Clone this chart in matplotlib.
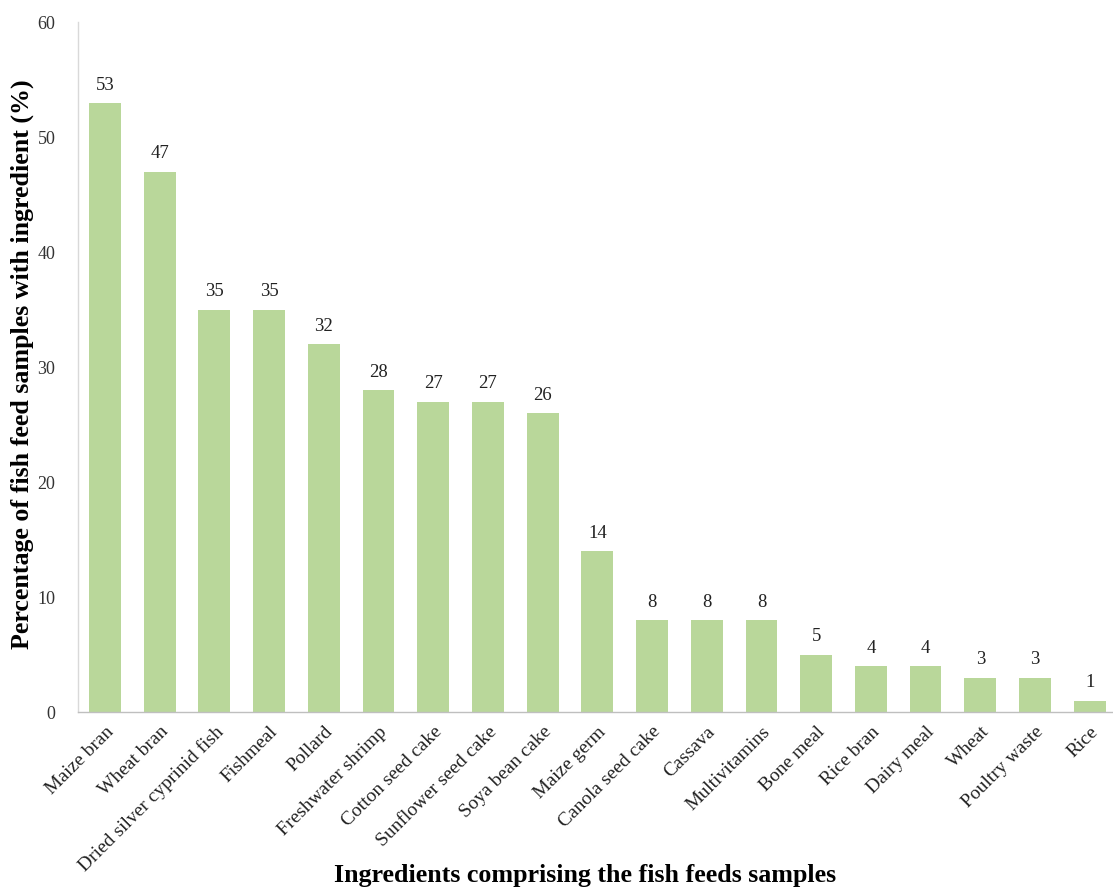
import matplotlib
matplotlib.use("Agg")
import matplotlib.pyplot as plt

ingredients = ["Maize bran", "Wheat bran", "Dried silver cyprinid fish", "Fishmeal",
               "Pollard", "Freshwater shrimp", "Cotton seed cake", "Sunflower seed cake",
               "Soya bean cake", "Maize germ", "Canola seed cake", "Cassava",
               "Multivitamins", "Bone meal", "Rice bran", "Dairy meal", "Wheat",
               "Poultry waste", "Rice"]
percentages = [53, 47, 35, 35, 32, 28, 27, 27, 26, 14, 8, 8, 8, 5, 4, 4, 3, 3, 1]
y_ticks = [0, 10, 20, 30, 40, 50, 60]

plt.rcParams["font.family"] = ["Liberation Serif", "DejaVu Serif"]

fig = plt.figure(figsize=(11.13, 8.89), dpi=100)
ax = fig.add_axes([0.0697, 0.199, 0.934, 0.776])

x = range(len(ingredients))
ax.bar(x, percentages, width=0.58, color="#b9d79a", zorder=2)
for xi, v in zip(x, percentages):
    ax.text(xi, v + 0.8, str(v), ha="center", va="bottom", fontsize=13.5, color="#222222")

ax.set_xlim(-0.5, len(ingredients) - 0.5)
ax.set_ylim(0, 60)
ax.set_yticks(y_ticks)
ax.set_yticklabels([str(t) for t in y_ticks], fontsize=13, color="#333333")
ax.set_xticks(list(x))
ax.set_xticklabels(ingredients, rotation=45, ha="right", rotation_mode="anchor",
                   fontsize=14, color="#222222")
ax.tick_params(axis="both", length=0)
ax.tick_params(axis="y", pad=16)
ax.tick_params(axis="x", pad=8)

for side in ("top", "right"):
    ax.spines[side].set_visible(False)
ax.spines["left"].set_color("#d9d9d9")
ax.spines["bottom"].set_color("#bfbfbf")
ax.spines["left"].set_linewidth(1.0)
ax.spines["bottom"].set_linewidth(1.0)

fig.text(0.0198, 0.590, "Percentage of fish feed samples with ingredient (%)",
         rotation=90, ha="center", va="center", fontsize=18.7, fontweight="bold")
fig.text(0.526, 0.008, "Ingredients comprising the fish feeds samples", ha="center",
         va="baseline", fontsize=18.7, fontweight="bold")

fig.savefig("out.png", dpi=100)
